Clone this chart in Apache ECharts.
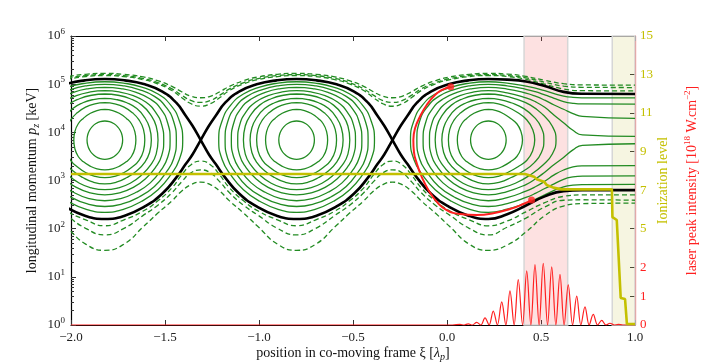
<!DOCTYPE html>
<html>
<head>
<meta charset="utf-8">
<script src="https://cdn.jsdelivr.net/npm/echarts@6/dist/echarts.min.js"></script>
<style>
  html, body { margin: 0; padding: 0; background: #fff; }
  #chart { width: 706px; height: 362px; }
</style>
</head>
<body>
<div id="chart"></div>
<script>
// ---- wake geometry ----
// bucket centres along xi, X-points sit half a period (0.51) away
var bucketCentres = [-1.82, -0.80, 0.22];

// trapped orbits, one half of each: offset from centre (xi) and log10 p on the upper / lower branch
var orbitDxi = [
  [0, 0.0245, 0.0473, 0.0670, 0.0820, 0.0914, 0.0947],
  [0, 0.0419, 0.0809, 0.1135, 0.1415, 0.1596, 0.1651],
  [0, 0.0530, 0.1024, 0.1472, 0.1817, 0.2054, 0.2125],
  [0, 0.0611, 0.1171, 0.1703, 0.2121, 0.2379, 0.2474],
  [0, 0.0697, 0.1350, 0.1967, 0.2439, 0.2730, 0.2829],
  [0, 0.0768, 0.1516, 0.2176, 0.2696, 0.3022, 0.3132],
  [0, 0.0846, 0.1668, 0.2416, 0.2984, 0.3343, 0.3471],
  [0, 0.0920, 0.1819, 0.2638, 0.3252, 0.3660, 0.3803],
  [0, 0.0986, 0.1967, 0.2829, 0.3504, 0.3956, 0.4142]
];
var orbitTopLog = [
  [4.235, 4.222, 4.182, 4.119, 4.038, 3.942, 3.84],
  [4.478, 4.453, 4.386, 4.293, 4.178, 4.015, 3.84],
  [4.615, 4.591, 4.524, 4.405, 4.257, 4.061, 3.84],
  [4.706, 4.681, 4.614, 4.493, 4.305, 4.095, 3.84],
  [4.796, 4.770, 4.697, 4.565, 4.364, 4.131, 3.84],
  [4.864, 4.838, 4.761, 4.628, 4.419, 4.160, 3.84],
  [4.935, 4.908, 4.830, 4.691, 4.483, 4.193, 3.84],
  [4.997, 4.970, 4.889, 4.746, 4.525, 4.224, 3.84],
  [5.050, 5.023, 4.941, 4.796, 4.565, 4.246, 3.84]
];
var orbitBotLog = [
  [3.44, 3.454, 3.494, 3.557, 3.640, 3.737, 3.84],
  [3.22, 3.242, 3.304, 3.387, 3.498, 3.663, 3.84],
  [3.06, 3.088, 3.166, 3.286, 3.420, 3.616, 3.84],
  [2.93, 2.965, 3.062, 3.203, 3.377, 3.582, 3.84],
  [2.81, 2.845, 2.943, 3.118, 3.323, 3.546, 3.84],
  [2.70, 2.742, 2.857, 3.041, 3.274, 3.516, 3.84],
  [2.58, 2.625, 2.755, 2.951, 3.214, 3.483, 3.84],
  [2.46, 2.513, 2.658, 2.877, 3.166, 3.452, 3.84],
  [2.34, 2.402, 2.569, 2.810, 3.118, 3.430, 3.84]
];

// forward half of the closed orbits in the front bucket (orbits 0..4)
var frontDxi = [
  [0, 0.0245, 0.0473, 0.0669, 0.0820, 0.0914, 0.0947],
  [0, 0.0419, 0.0809, 0.1166, 0.1515, 0.1735, 0.1815],
  [0, 0.0530, 0.1026, 0.1577, 0.2050, 0.2355, 0.2467],
  [0, 0.0611, 0.1211, 0.1892, 0.2460, 0.2822, 0.2953],
  [0, 0.0697, 0.1437, 0.2240, 0.2906, 0.3394, 0.3600]
];

// orbits 5..8 of the front bucket open up ahead of the wake
var openDxi = [0, 0.1, 0.2, 0.25, 0.3, 0.35, 0.4, 0.45, 0.5, 0.78];
var openTopLog = [
  [4.864, 4.820, 4.717, 4.636, 4.519, 4.355, 4.199, 4.042, 3.948, 3.916],
  [4.935, 4.898, 4.814, 4.751, 4.667, 4.567, 4.479, 4.390, 4.330, 4.290],
  [4.997, 4.965, 4.894, 4.844, 4.778, 4.706, 4.639, 4.603, 4.589, 4.586],
  [5.050, 5.022, 4.960, 4.917, 4.864, 4.805, 4.753, 4.726, 4.717, 4.715]
];
var openBotLog = [
  [2.70, 2.771, 2.916, 3.030, 3.172, 3.332, 3.477, 3.635, 3.730, 3.763],
  [2.58, 2.643, 2.780, 2.870, 2.985, 3.116, 3.218, 3.282, 3.303, 3.308],
  [2.46, 2.522, 2.649, 2.732, 2.834, 2.930, 3.025, 3.074, 3.091, 3.094],
  [2.34, 2.404, 2.531, 2.610, 2.700, 2.796, 2.868, 2.904, 2.916, 2.918]
];

// separatrix (black)
var sepDxi = [0, 0.1056, 0.2125, 0.306, 0.3797, 0.4302, 0.4663, 0.51];
var sepTopLog = [5.107, 5.079, 4.996, 4.846, 4.615, 4.345, 4.136, 3.84];
var sepBotLog = [2.20, 2.269, 2.462, 2.729, 3.06, 3.34, 3.54, 3.84];
var waveFrontDxi = [0, 0.1, 0.2, 0.3, 0.4, 0.5, 0.78];
var sepFrontTopLog = [5.107, 5.095, 5.055, 4.96, 4.84, 4.80, 4.795];
var sepFrontBotLog = [2.20, 2.30, 2.48, 2.67, 2.78, 2.80, 2.80];

// untrapped orbits (dashed)
var waveDxi = [0, 0.102, 0.204, 0.2805, 0.357, 0.408, 0.459, 0.51];
var upperDashLog = [
  [5.180, 5.158, 5.094, 5.008, 4.868, 4.722, 4.593, 4.542],
  [5.197, 5.178, 5.117, 5.034, 4.902, 4.772, 4.659, 4.620],
  [5.224, 5.205, 5.150, 5.073, 4.955, 4.843, 4.749, 4.718]
];
var upperDashFrontLog = [
  [5.180, 5.16, 5.10, 5.00, 4.90, 4.865, 4.86],
  [5.197, 5.18, 5.13, 5.04, 4.96, 4.935, 4.93],
  [5.224, 5.21, 5.16, 5.08, 5.01, 4.985, 4.98]
];
var lowerDashLog = [
  [2.06, 2.184, 2.366, 2.572, 2.848, 3.111, 3.329, 3.404],
  [1.87, 2.007, 2.276, 2.482, 2.745, 2.971, 3.160, 3.220],
  [1.55, 1.679, 2.038, 2.318, 2.577, 2.777, 2.914, 2.965]
];
var lowerDashFrontLog = [
  [2.06, 2.16, 2.35, 2.54, 2.67, 2.70, 2.70],
  [1.87, 2.03, 2.22, 2.45, 2.59, 2.60, 2.59],
  [1.55, 1.66, 1.93, 2.27, 2.47, 2.52, 2.53]
];

// injected electron (red)
var electronXi = [0.020, -0.020, -0.064, -0.108, -0.144, -0.170, -0.179, -0.176, -0.161, -0.135,
  -0.099, -0.055, -0.002, 0.069, 0.158, 0.246, 0.335, 0.406, 0.450];
var electronLog = [4.947, 4.893, 4.775, 4.567, 4.324, 4.083, 3.841, 3.598, 3.357, 3.079,
  2.803, 2.560, 2.387, 2.304, 2.284, 2.319, 2.408, 2.512, 2.595];

// ionization level (right axis)
var ionXi = [-2.0, 0.415, 0.463, 0.477, 0.516, 0.530, 0.565, 0.610, 0.877, 0.880, 0.903, 0.924, 0.947, 0.957, 1.0];
var ionLevel = [7.84, 7.84, 7.70, 7.57, 7.44, 7.27, 7.13, 7.04, 7.04, 5.60, 5.45, 1.40, 1.35, 0.05, 0.05];

// laser intensity (right axis)
var laserXi = [-2.0, 0.030, 0.069, 0.091, 0.113, 0.135, 0.158, 0.180, 0.202, 0.224, 0.246, 0.268,
  0.291, 0.313, 0.335, 0.357, 0.379, 0.402, 0.424, 0.446, 0.468, 0.490, 0.512, 0.535, 0.557, 0.579,
  0.601, 0.623, 0.645, 0.668, 0.690, 0.712, 0.734, 0.756, 0.778, 0.801, 0.823, 0.845, 0.867, 0.889,
  0.911, 0.935, 1.0];
var laserI = [0, 0, 0.02, 0, 0.04, 0, 0.09, 0, 0.25, 0, 0.48, 0,
  0.80, 0, 1.18, 0, 1.57, 0, 1.87, 0, 2.09, 0, 2.13, 0, 2.01, 0,
  1.75, 0, 1.39, 0, 1.00, 0, 0.63, 0, 0.37, 0, 0.16, 0, 0.06, 0,
  0.02, 0, 0];

// shaded regions
var pinkBand = [0.41, 0.642];
var beigeBand = [0.879, 1.0];

var xTicks = [-2.0, -1.5, -1.0, -0.5, 0.0, 0.5, 1.0];
var yDecades = [1, 10, 100, 1e3, 1e4, 1e5, 1e6];
var ionLabels = [5, 7, 9, 11, 13, 15];
var laserLabels = [0, 1, 2];

var SERIF = 'Liberation Serif';
var GREEN = '#228b22';
var YELLOW = '#c4c000';
var RED = '#ff2020';

// minor log ticks 2..9 x 10^n
var yMinor = [];
yDecades.slice(0, -1).forEach(function (d) {
  for (var m = 2; m < 10; m++) yMinor.push(m * d);
});

function pt(xi, lg) {
  return [xi, Math.pow(10, lg)];
}

// closed orbit as one loop: front top -> front bottom -> rear bottom -> rear top
function closedOrbit(c, rear, front, top, bot) {
  var pts = [], n = top.length, i;
  for (i = 0; i < n; i++) pts.push(pt(c + front[i], top[i]));
  for (i = n - 2; i >= 0; i--) pts.push(pt(c + front[i], bot[i]));
  for (i = 1; i < n; i++) pts.push(pt(c - rear[i], bot[i]));
  for (i = n - 2; i >= 0; i--) pts.push(pt(c - rear[i], top[i]));
  return pts;
}

// orbit that is closed behind the centre and open ahead of it
function openOrbit(c, rear, top, bot, oTop, oBot) {
  var pts = [], i;
  for (i = oTop.length - 1; i > 0; i--) pts.push(pt(c + openDxi[i], oTop[i]));
  for (i = 0; i < top.length; i++) pts.push(pt(c - rear[i], top[i]));
  for (i = bot.length - 2; i >= 0; i--) pts.push(pt(c - rear[i], bot[i]));
  for (i = 1; i < oBot.length; i++) pts.push(pt(c + openDxi[i], oBot[i]));
  return pts;
}

// curve running through all buckets, one profile per bucket, then ahead of the wake
function wave(dxi, profiles, frontLog) {
  var pts = [], n = dxi.length, b, i;
  for (b = 0; b < 3; b++) {
    var c = bucketCentres[b], p = profiles[b];
    for (i = (b === 0 ? n - 1 : n - 2); i > 0; i--) pts.push(pt(c - dxi[i], p[i]));
    pts.push(pt(c, p[0]));
    if (b < 2) for (i = 1; i < n; i++) pts.push(pt(c + dxi[i], p[i]));
  }
  for (i = 1; i < frontLog.length; i++) pts.push(pt(bucketCentres[2] + waveFrontDxi[i], frontLog[i]));
  return pts;
}

function curve(data, color, width, type, z) {
  return {
    type: 'line', xAxisIndex: 0, yAxisIndex: 0, data: data,
    smooth: 0.5, symbol: 'none', silent: true, z: z,
    lineStyle: { color: color, width: width, type: type }
  };
}

var series = [];

// shaded bands
series.push({
  type: 'line', xAxisIndex: 0, yAxisIndex: 2, data: [[-2, 0]], symbol: 'none', silent: true, z: 1,
  lineStyle: { opacity: 0 },
  markArea: {
    silent: true,
    data: [
      [{ xAxis: pinkBand[0], itemStyle: { color: 'rgba(240,70,70,0.16)', borderColor: '#d6d6d6', borderWidth: 1.5 } }, { xAxis: pinkBand[1] }],
      [{ xAxis: beigeBand[0], itemStyle: { color: 'rgba(200,190,70,0.16)', borderColor: '#d6d6d6', borderWidth: 1.5 } }, { xAxis: beigeBand[1] }]
    ]
  }
});

// trapped orbits
bucketCentres.forEach(function (c, b) {
  for (var k = 0; k < orbitTopLog.length; k++) {
    var data;
    if (b < 2) {
      data = closedOrbit(c, orbitDxi[k], orbitDxi[k], orbitTopLog[k], orbitBotLog[k]);
    } else if (k < frontDxi.length) {
      data = closedOrbit(c, orbitDxi[k], frontDxi[k], orbitTopLog[k], orbitBotLog[k]);
    } else {
      data = openOrbit(c, orbitDxi[k], orbitTopLog[k], orbitBotLog[k], openTopLog[k - 5], openBotLog[k - 5]);
    }
    series.push(curve(data, GREEN, 1.3, 'solid', 3));
  }
});

// untrapped orbits
for (var j = 0; j < upperDashLog.length; j++) {
  series.push(curve(wave(waveDxi, [upperDashLog[j], upperDashLog[j], upperDashLog[j]], upperDashFrontLog[j]), GREEN, 1.3, [5, 3], 3));
  series.push(curve(wave(waveDxi, [lowerDashLog[j], lowerDashLog[j], lowerDashLog[j]], lowerDashFrontLog[j]), GREEN, 1.3, [5, 3], 3));
}

// separatrix
series.push(curve(wave(sepDxi, [sepTopLog, sepBotLog, sepTopLog], sepFrontTopLog), '#000', 2.6, 'solid', 4));
series.push(curve(wave(sepDxi, [sepBotLog, sepTopLog, sepBotLog], sepFrontBotLog), '#000', 2.6, 'solid', 4));

// electron trajectory and its end points
series.push(curve(electronXi.map(function (x, i) { return pt(x, electronLog[i]); }), RED, 2, 'solid', 5));
series.push({
  type: 'scatter', xAxisIndex: 0, yAxisIndex: 0, silent: true, z: 6, symbolSize: 7,
  itemStyle: { color: RED },
  data: [pt(electronXi[0], electronLog[0]), pt(electronXi[electronXi.length - 1], electronLog[electronLog.length - 1])]
});

// laser envelope
series.push({
  type: 'line', xAxisIndex: 0, yAxisIndex: 2, smooth: 0.35, symbol: 'none', silent: true, z: 6,
  data: laserXi.map(function (x, i) { return [x, laserI[i]]; }),
  lineStyle: { color: RED, width: 1.2 }
});

// ionization level
series.push({
  type: 'line', xAxisIndex: 0, yAxisIndex: 1, symbol: 'none', silent: true, z: 7,
  data: ionXi.map(function (x, i) { return [x, ionLevel[i]]; }),
  lineStyle: { color: YELLOW, width: 2.6 }
});

var tickStyle = { show: true, inside: true, length: 5, lineStyle: { color: '#333' } };
var nameRich = {
  i: { fontSize: 14, fontStyle: 'italic', fontFamily: SERIF, color: '#111' },
  s: { fontSize: 10, fontStyle: 'italic', fontFamily: SERIF, color: '#111', padding: [7, 0, 0, 0] }
};

var option = {
  animation: false,
  backgroundColor: '#fff',
  textStyle: { fontFamily: SERIF },
  grid: { left: 71, right: 71, top: 36, bottom: 37, containLabel: false, outerBoundsMode: 'none' },
  xAxis: [{
    type: 'value', position: 'bottom', min: -2, max: 1, interval: 0.5,
    axisLine: { show: true, onZero: false, lineStyle: { color: '#000', width: 1.2 } },
    axisTick: tickStyle,
    splitLine: { show: false },
    axisLabel: {
      color: '#222', fontSize: 13, fontFamily: SERIF, margin: 6,
      customValues: xTicks,
      formatter: function (v) { return v.toFixed(1).replace('-', '\u2212'); }
    },
    name: 'position in co-moving frame \u03be [{i|\u03bb}{s|p}]',
    nameLocation: 'middle', nameGap: 20, nameMoveOverlap: false,
    nameTextStyle: { color: '#111', fontSize: 14, fontFamily: SERIF, rich: nameRich }
  }, {
    type: 'value', position: 'top', min: -2, max: 1, interval: 0.5,
    axisLine: { show: true, onZero: false, lineStyle: { color: '#000', width: 1.2 } },
    axisTick: tickStyle,
    splitLine: { show: false },
    axisLabel: { show: false }
  }],
  yAxis: [{
    type: 'log', logBase: 10, min: 1, max: 1e6, position: 'left',
    axisLine: { show: true, onZero: false, lineStyle: { color: '#000', width: 1.2 } },
    axisTick: { show: true, inside: true, length: 5, lineStyle: { color: '#333' }, customValues: yDecades },
    splitLine: { show: false },
    axisLabel: {
      color: '#222', fontFamily: SERIF, margin: 6,
      customValues: yDecades,
      formatter: function (v) { return '{b|10}{e|' + Math.round(Math.log10(v)) + '}'; },
      rich: {
        b: { fontSize: 13, fontFamily: SERIF, color: '#222' },
        e: { fontSize: 9, fontFamily: SERIF, color: '#222', padding: [0, 0, 9, 0] }
      }
    },
    name: 'longitudinal momentum {i|p}{s|z} [keV]',
    nameLocation: 'middle', nameGap: 30, nameRotate: 90, nameMoveOverlap: false,
    nameTextStyle: { color: '#111', fontSize: 14, fontFamily: SERIF, rich: nameRich }
  }, {
    type: 'value', min: 0, max: 15, position: 'right',
    axisLine: { show: false, onZero: false },
    axisTick: { show: true, inside: true, length: 5, lineStyle: { color: '#333' }, customValues: [5, 7, 9, 11, 13] },
    splitLine: { show: false },
    axisLabel: { color: YELLOW, fontSize: 13, fontFamily: SERIF, margin: 5, customValues: ionLabels },
    name: 'Ionization level',
    nameLocation: 'middle', nameGap: 21, nameRotate: 90, nameMoveOverlap: false,
    nameTextStyle: { color: YELLOW, fontSize: 14, fontFamily: SERIF }
  }, {
    type: 'value', min: 0, max: 10, position: 'right',
    axisLine: { show: true, onZero: false, lineStyle: { color: RED, width: 1.2 } },
    axisTick: { show: true, inside: true, length: 5, lineStyle: { color: '#333' }, customValues: [1, 2] },
    splitLine: { show: false },
    axisLabel: { color: RED, fontSize: 13, fontFamily: SERIF, margin: 5, customValues: laserLabels },
    name: 'laser peak intensity [10{e|18} W.cm{e|\u22122}]',
    nameLocation: 'middle', nameGap: 48, nameRotate: 90, nameMoveOverlap: false,
    nameTextStyle: {
      color: RED, fontSize: 14, fontFamily: SERIF,
      rich: { e: { fontSize: 9, fontFamily: SERIF, color: RED, padding: [0, 0, 9, 0] } }
    }
  }, {
    // minor ticks of the momentum axis
    type: 'log', logBase: 10, min: 1, max: 1e6, position: 'left',
    axisLine: { show: false, onZero: false },
    axisTick: { show: true, inside: true, length: 3, lineStyle: { color: '#333' }, customValues: yMinor },
    axisLabel: { show: false },
    splitLine: { show: false }
  }],
  series: series
};

var chart = echarts.init(document.getElementById('chart'), null, { renderer: 'canvas' });
chart.setOption(option);
</script>
</body>
</html>
